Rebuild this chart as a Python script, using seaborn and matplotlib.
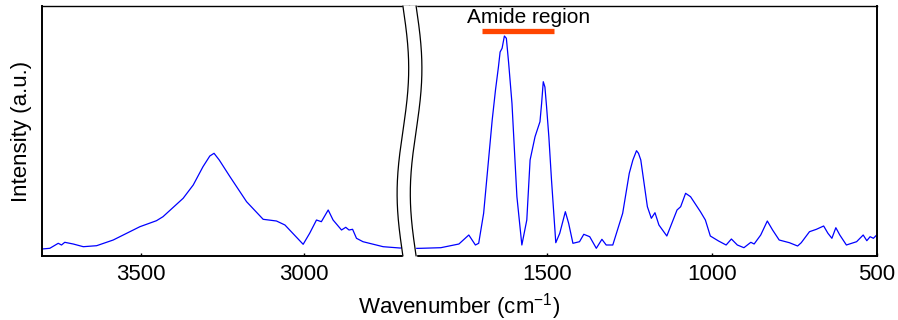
import numpy as np
import pandas as pd
import matplotlib
matplotlib.use('Agg')
import matplotlib.pyplot as plt
import seaborn as sns

# spectrum, high wavenumber part (left of the break)
wn_left = [3805, 3781, 3755, 3745, 3735, 3709, 3678, 3637, 3586, 3504,
           3453, 3433, 3371, 3340, 3310, 3289, 3276, 3260, 3227, 3176, 3125,
           3084, 3058, 3002, 2982, 2961, 2946, 2925, 2910, 2884, 2871,
           2861, 2850, 2838, 2818, 2756, 2705, 2675]
int_left = [7, 7.7, 12.7, 11, 13.7, 12, 9.3, 10.3, 16, 29.3,
            35.3, 39.3, 57.7, 71, 89.3, 100, 102.7, 96, 79.3, 54.3, 36.7,
            35, 31, 11.7, 22.7, 36, 34.3, 46, 36, 26, 28.7,
            26, 26.7, 17.7, 14.3, 9.3, 8, 8]

# fingerprint part (right of the break)
wn_right = [1915, 1883, 1823, 1768, 1738, 1718, 1708, 1693, 1667, 1657,
            1648, 1643, 1637, 1630, 1624, 1617, 1607, 1599, 1592, 1577,
            1562, 1552, 1537, 1522, 1517, 1512, 1507, 1502, 1495, 1487,
            1474, 1462, 1445, 1435, 1422, 1402, 1389, 1371,
            1351, 1334, 1321, 1301, 1271, 1251, 1240, 1229, 1223, 1216,
            1196, 1184, 1173, 1161, 1137, 1106, 1095, 1080, 1065, 1035,
            1020, 1005, 980, 957, 941, 923, 903, 882, 872, 852, 832, 816,
            796, 765, 740, 729, 704, 683, 661, 648, 636, 624,
            612, 592, 561, 541, 530, 520, 510, 500]
int_right = [7.5, 7.7, 8.3, 12, 21, 11, 12.7, 42.7, 136, 166,
             189.3, 204, 207.7, 220, 217.7, 192.7, 152.7, 102.7, 59.3, 11,
             36, 96, 119.3, 134.3, 152.7, 174.3, 169, 149.3, 119, 76,
             13.3, 22.7, 44.3, 32.7, 12.7, 14.3, 21.7, 19.3,
             7.7, 16.7, 11, 11, 42.7, 82.7, 96, 105.3, 102.7, 96,
             49.3, 37.7, 43.3, 31, 20, 46, 49.3, 62.7, 59.3, 44.3,
             36, 20, 15, 11, 17, 11, 8.3, 13.7, 12, 21, 35, 26,
             16, 13.3, 10, 13.3, 24.3, 26.7, 30, 22.7, 17.7, 28.3,
             21, 11, 14.3, 21, 15.3, 19.3, 17.7, 21]

ticks_left = [3500, 3000]
ticks_right = [1500, 1000, 500]
amide_range = (1697, 1479)

sns.set_style('white')
plt.rcParams['font.family'] = ['Liberation Sans', 'DejaVu Sans']
plt.rcParams['mathtext.default'] = 'regular'
plt.rcParams['text.color'] = 'black'
plt.rcParams['xtick.color'] = 'black'
plt.rcParams['xtick.labelcolor'] = 'black'

W, H = 898, 320
fig = plt.figure(figsize=(W / 100, H / 100), dpi=100)

x0, xb, x1 = 42, 409.5, 876.7
ybot, ytop = 256, 6
ax_l = fig.add_axes([x0 / W, 1 - ybot / H, (xb - x0) / W, (ybot - ytop) / H])
ax_r = fig.add_axes([xb / W, 1 - ybot / H, (x1 - xb) / W, (ybot - ytop) / H])

left = pd.DataFrame({'wn': wn_left, 'I': int_left})
right = pd.DataFrame({'wn': wn_right, 'I': int_right})
sns.lineplot(data=left, x='wn', y='I', ax=ax_l, color='#0000FF', lw=0.9)
sns.lineplot(data=right, x='wn', y='I', ax=ax_r, color='#0000FF', lw=0.9)

ax_l.set_xlim(3805, 2675)
ax_r.set_xlim(1918, 500)
for ax, tk in ((ax_l, ticks_left), (ax_r, ticks_right)):
    ax.set_ylim(0, 250)
    ax.set_xticks(tk)
    ax.set_yticks([])
    ax.set_xlabel('')
    ax.set_ylabel('')
    ax.tick_params(axis='x', direction='in', length=2.5, width=1,
                   labelsize=16, pad=6, bottom=True, colors='black')
    for s in ax.spines.values():
        s.set_color('black')
        s.set_linewidth(1.4)
ax_l.spines['right'].set_visible(False)
ax_r.spines['left'].set_visible(False)
ax_l.spines['top'].set_linewidth(1.0)
ax_r.spines['top'].set_linewidth(1.0)

# amide region marker
ax_r.plot(amide_range, [225, 225], color='#FF4500', lw=3.8,
          solid_capstyle='butt')
ax_r.text(1556, 233, 'Amide region', ha='center', va='baseline',
          fontsize=15, color='black')

# axis break: white wavy band with black edges
deco = fig.add_axes([x0 / W, 1 - ybot / H, (x1 - x0) / W, (ybot - ytop) / H])
deco.set_xlim(x0, x1)
deco.set_ylim(0, 1)
deco.axis('off')
s = np.linspace(0, 1, 200)
yy = 1 - s
off = 5.8 * np.sin(2 * np.pi * s)
half = 6.6
deco.fill_betweenx(yy, xb - half + off, xb + half + off, color='white',
                   zorder=3, clip_on=False)
deco.plot(xb - half + off, yy, color='black', lw=0.9, zorder=4, clip_on=False)
deco.plot(xb + half + off, yy, color='black', lw=0.9, zorder=4, clip_on=False)

fig.text(459 / W, 1 - 313 / H, 'Wavenumber (cm$^{-1}$)', ha='center',
         va='baseline', fontsize=16, color='black')
fig.text(11 / W, 1 - 131 / H, 'Intensity (a.u.)', ha='left', va='center',
         rotation=90, fontsize=16, color='black')

fig.savefig('out.png', dpi=100)
